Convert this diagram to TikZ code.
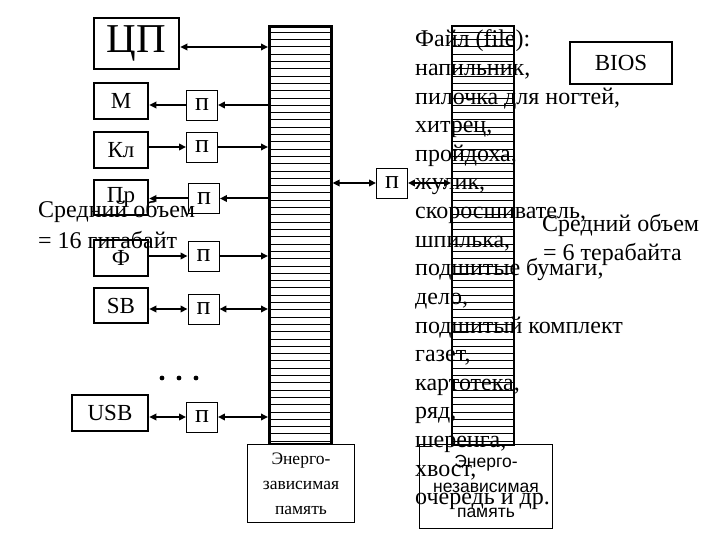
\documentclass[tikz,border=0pt]{standalone}
\usepackage{fontspec}
\setmainfont{Liberation Serif}
\newfontfamily\sansf{Liberation Sans}
\usetikzlibrary{arrows.meta,calc}
\begin{document}
\begin{tikzpicture}[x=1pt,y=-1pt,
  thickbox/.style={draw,line width=2.6pt,inner sep=0pt,fill=white,font=\fontsize{23}{23}\selectfont},
  pbox/.style={draw,line width=0.9pt,inner sep=0pt,minimum width=31pt,minimum height=30pt,fill=white,font=\fontsize{26}{26}\selectfont},
  thinbox/.style={draw,line width=0.9pt,inner sep=0pt,fill=white},
  arr/.style={line width=2pt,-{Triangle[length=7pt,width=6.5pt]}},
  darr/.style={line width=2pt,{Triangle[length=7pt,width=6.5pt]}-{Triangle[length=7pt,width=6.5pt]}},
  hatch/.style={line width=0.8pt},
  bigtxt/.style={inner sep=0pt,font=\fontsize{24}{24}\selectfont}]
\useasboundingbox (0,0) rectangle (720,540);

% buses
\node[draw,line width=2.6pt,inner sep=0pt,minimum width=62pt,minimum height=418pt,anchor=north west] (busL) at (268,25) {};
\foreach \k in {1,...,57} \draw[hatch] (268,25+7.3*\k) -- (330,25+7.3*\k);
\node[draw,line width=1.8pt,inner sep=0pt,minimum width=62pt,minimum height=419pt,anchor=north west] (busR) at (451,25) {};
\foreach \k in {1,...,57} \draw[hatch] (451,25+7.3*\k) -- (513,25+7.3*\k);

% energy boxes
\node[thinbox,minimum width=107pt,minimum height=78pt,anchor=north west,align=center,
  font=\fontsize{17.5}{25}\selectfont] (enL) at (247,444) {Энерго-\\зависимая\\память};
\node[thinbox,fill=none,minimum width=133pt,minimum height=84pt,anchor=north west,align=center,
  font=\sansf\fontsize{17.5}{25}\selectfont] (enR) at (419,444) {Энерго-\\независимая\\память};

% devices
\node[thickbox,minimum width=85pt,minimum height=51pt,font=\fontsize{41}{41}\selectfont] (cpu) at (136.5,43.5) {ЦП};
\node[thickbox,minimum width=54pt,minimum height=36pt] (m) at (121,101) {М};
\node[thickbox,minimum width=54pt,minimum height=36pt] (kl) at (121,150) {Кл};
\node[thickbox,minimum width=54pt,minimum height=35pt] (pr) at (121,197.5) {Пр};
\node[thickbox,minimum width=54pt,minimum height=36pt] (f) at (121,258) {Ф};
\node[thickbox,minimum width=54pt,minimum height=35pt] (sb) at (121,305.5) {SB};
\node[thickbox,minimum width=76pt,minimum height=36pt] (usb) at (110,413) {USB};

% adapters
\node[pbox] (p1) at (202,105) {п};
\node[pbox] (p2) at (202,147) {п};
\node[pbox] (p3) at (204,198.5) {п};
\node[pbox] (p4) at (203.5,256) {п};
\node[pbox] (p5) at (203.5,309) {п};
\node[pbox] (p6) at (202,417) {п};
\node[pbox] (pR) at (392,183) {п};

\node[thinbox,line width=1.3pt,minimum width=102pt,minimum height=42pt,font=\fontsize{23}{23}\selectfont] (bios) at (621,63) {BIOS};

% dots
\foreach \x in {162,179,196} \fill (\x,378) circle (2.4pt);

% connectors
\draw[darr] ([yshift=-3.5pt]cpu.east) -- ([yshift=-3.5pt]cpu.east -| busL.west);
\draw[arr] (p1.east -| busL.west) -- (p1.east);
\draw[arr] (p1.west) -- (p1.west -| m.east);
\draw[arr] (p2.west -| kl.east) -- (p2.west);
\draw[arr] (p2.east) -- (p2.east -| busL.west);
\draw[arr] (p3.east -| busL.west) -- (p3.east);
\draw[arr] (p3.west) -- (p3.west -| pr.east);
\draw[arr] (p4.west -| f.east) -- (p4.west);
\draw[arr] (p4.east) -- (p4.east -| busL.west);
\draw[darr] (p5.west -| sb.east) -- (p5.west);
\draw[darr] (p5.east) -- (p5.east -| busL.west);
\draw[darr] (p6.west -| usb.east) -- (p6.west);
\draw[darr] (p6.east) -- (p6.east -| busL.west);
\draw[darr] (pR.west -| busL.east) -- (pR.west);
\draw[darr] (pR.east) -- (pR.east -| busR.west);

% texts
\node[bigtxt,anchor=base west] (sl1) at (38,218) {Средний объем};
\node[bigtxt,anchor=base west] (sl2) at (38,248) {= 16 гигабайт};
\node[bigtxt,anchor=base west] (sr1) at (542,232) {Средний объем};
\node[bigtxt,anchor=base west] (sr2) at (543,260) {= 6 терабайта};

\foreach \t [count=\i from 0] in {Файл (file):,{напильник,},{пилочка для ногтей,},{хитрец,},{пройдоха,},{жулик,},{скоросшиватель,},{шпилька,},{подшитые бумаги,},{дело,},{подшитый комплект},{газет,},{картотека,},{ряд,},{шеренга,},{хвост,},очередь и др.}
  \node[bigtxt,anchor=base west] (ft\i) at (415,47+28.6*\i) {\t};
\end{tikzpicture}
\end{document}
